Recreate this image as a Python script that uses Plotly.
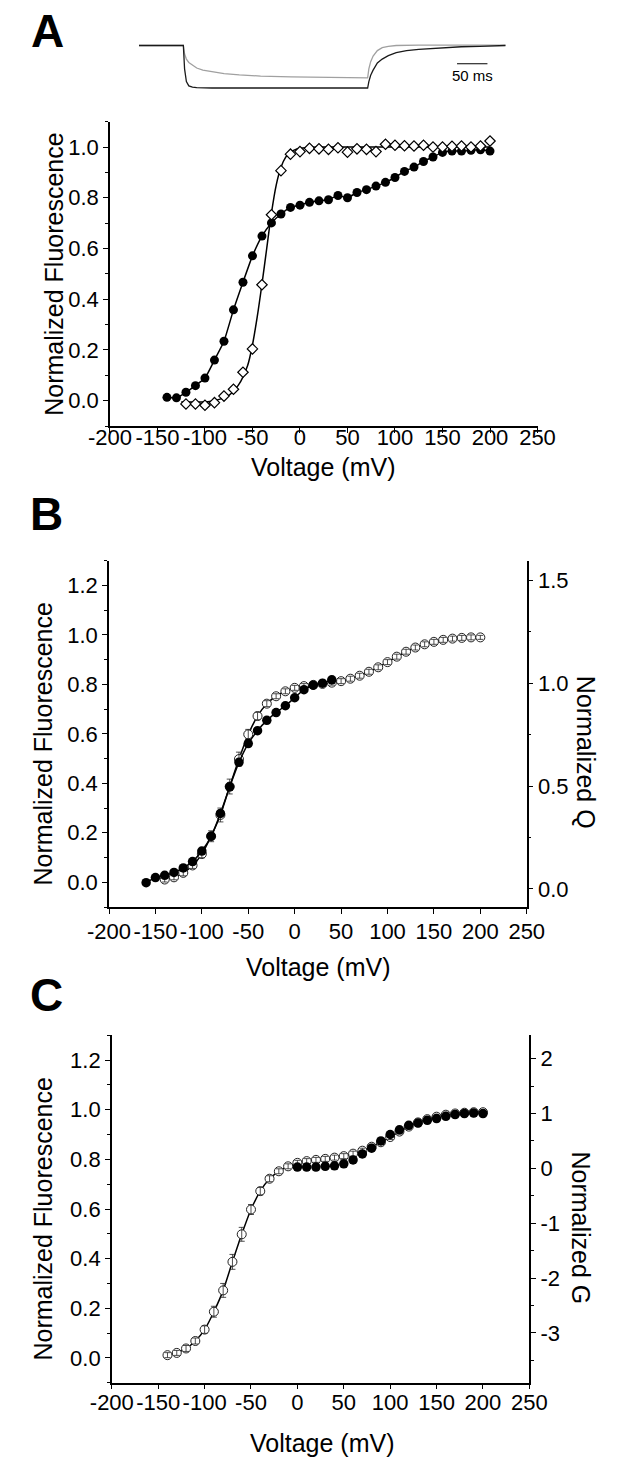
import plotly.graph_objects as go

W, H = 621, 1459
FONT = "Arial, Liberation Sans, sans-serif"

# ---------------- Panel A inset: fluorescence traces ----------------
trace_time_ms = [0, 73, 75, 78, 82, 88, 95, 105, 120, 140, 165, 200, 250, 300, 376,
                 378, 381, 385, 392, 400, 410, 423, 440, 460, 480, 500, 530, 560, 603]
trace_dark = [0, 0, -0.55, -0.85, -0.95, -0.98, -0.99, -1.0, -1.0, -1.0, -1.0, -1.0, -1.0, -1.0, -1.0,
              -0.85, -0.7, -0.58, -0.41, -0.32, -0.24, -0.17, -0.12, -0.09, -0.07, -0.05, -0.03, -0.02, 0]
trace_gray = [0, 0, -0.2, -0.32, -0.4, -0.47, -0.53, -0.58, -0.62, -0.66, -0.69, -0.72, -0.74, -0.75, -0.76,
              -0.55, -0.38, -0.25, -0.12, -0.05, -0.02, 0.0, 0.01, 0.01, 0.01, 0.01, 0.01, 0.01, 0.01]
scale_bar_ms = 50

# ---------------- Panel A: F-V curves ----------------
voltage_a_circles = [-140, -130, -120, -110, -100, -90, -80, -70, -60, -50, -40, -30, -20, -10, 0,
                     10, 20, 30, 40, 50, 60, 70, 80, 90, 100, 110, 120, 130, 140, 150, 160, 170, 180, 190, 200]
fluor_a_circles = [0.013, 0.011, 0.033, 0.059, 0.089, 0.16, 0.234, 0.358, 0.467, 0.571, 0.649, 0.701, 0.736,
                   0.762, 0.771, 0.782, 0.788, 0.792, 0.809, 0.80, 0.821, 0.832, 0.846, 0.861, 0.880, 0.904,
                   0.921, 0.943, 0.961, 0.979, 0.984, 0.984, 0.987, 0.989, 0.984]

voltage_a_diamonds = [-120, -110, -100, -90, -80, -70, -60, -50, -40, -30, -20, -10, 0,
                      10, 20, 30, 40, 50, 60, 70, 80, 90, 100, 110, 120, 130, 140, 150, 160, 170, 180, 190, 200]
fluor_a_diamonds = [-0.013, -0.013, -0.018, -0.008, 0.018, 0.045, 0.112, 0.204, 0.457, 0.733, 0.907, 0.972,
                    0.982, 0.995, 0.993, 0.991, 0.997, 0.980, 0.993, 0.991, 0.982, 1.011, 1.007, 1.005, 1.004,
                    1.007, 1.0, 1.0, 1.003, 1.004, 1.0, 1.004, 1.024]

# fitted curve through the diamonds
fit_a_voltage = [-125, -110, -95, -85, -75, -65, -55, -50, -45, -40, -35, -30, -25, -20, -15, -10, -5, 0,
                 20, 50, 100, 150, 200]
fit_a_fluor = [-0.005, -0.005, -0.003, 0.005, 0.02, 0.06, 0.14, 0.22, 0.33, 0.46, 0.6, 0.74, 0.85, 0.92,
               0.96, 0.98, 0.99, 0.995, 1.0, 1.0, 1.0, 1.0, 1.0]

# ---------------- Panels B & C: mean fluorescence (open circles) ----------------
voltage_f = [-140, -130, -120, -110, -100, -90, -80, -70, -60, -50, -40, -30, -20, -10, 0,
             10, 20, 30, 40, 50, 60, 70, 80, 90, 100, 110, 120, 130, 140, 150, 160, 170, 180, 190, 200]
fluor_mean = [0.011, 0.02, 0.038, 0.068, 0.114, 0.186, 0.272, 0.387, 0.498, 0.598, 0.672, 0.722, 0.752,
              0.772, 0.786, 0.793, 0.798, 0.802, 0.807, 0.813, 0.823, 0.835, 0.851, 0.869, 0.89, 0.912,
              0.932, 0.949, 0.962, 0.972, 0.98, 0.985, 0.988, 0.99, 0.99]
fluor_sem = [0.01, 0.01, 0.012, 0.012, 0.015, 0.022, 0.028, 0.03, 0.028, 0.02, 0.015, 0.012, 0.01, 0.01,
             0.01, 0.01, 0.01, 0.01, 0.01, 0.01, 0.01, 0.01, 0.01, 0.01, 0.01, 0.01, 0.01, 0.01, 0.01,
             0.01, 0.01, 0.01, 0.01, 0.01, 0.008]

# ---------------- Panel B: gating charge ----------------
voltage_q = [-160, -150, -140, -130, -120, -110, -100, -90, -80, -70, -60, -50, -40, -30, -20, -10,
             0, 10, 20, 30, 40]
charge_q = [0.03, 0.055, 0.066, 0.08, 0.102, 0.133, 0.184, 0.256, 0.367, 0.496, 0.615, 0.706, 0.769,
            0.819, 0.857, 0.89, 0.929, 0.968, 0.99, 1.0, 1.016]

# ---------------- Panel C: conductance ----------------
voltage_g = [0, 10, 20, 30, 40, 50, 60, 70, 80, 90, 100, 110, 120, 130, 140, 150, 160, 170, 180, 190, 200]
conductance_g = [0.024, 0.024, 0.024, 0.038, 0.047, 0.083, 0.155, 0.264, 0.368, 0.5, 0.618, 0.704, 0.786,
                 0.827, 0.877, 0.909, 0.95, 0.982, 1.0, 1.009, 1.0]

# ---------------- tick labels ----------------
x_ticks = [-200, -150, -100, -50, 0, 50, 100, 150, 200, 250]
x_tick_text = ["-200", "-150", "-100", "-50", "0", "50", "100", "150", "200", "250"]
fa_ticks = [0.0, 0.2, 0.4, 0.6, 0.8, 1.0]
fa_tick_text = ["0.0", "0.2", "0.4", "0.6", "0.8", "1.0"]
f_ticks = [0.0, 0.2, 0.4, 0.6, 0.8, 1.0, 1.2]
f_tick_text = ["0.0", "0.2", "0.4", "0.6", "0.8", "1.0", "1.2"]
q_ticks = [0.0, 0.5, 1.0, 1.5]
q_tick_text = ["0.0", "0.5", "1.0", "1.5"]
g_ticks = [-3, -2, -1, 0, 1, 2]
g_tick_text = ["-3", "-2", "-1", "0", "1", "2"]


def px_x(p):
    return p / W


def px_y(p):
    return 1 - p / H


fig = go.Figure()

# inset traces
fig.add_trace(go.Scatter(x=trace_time_ms, y=trace_gray, mode="lines", xaxis="x6", yaxis="y6",
                         line=dict(color="#a0a0a0", width=1.3), showlegend=False))
fig.add_trace(go.Scatter(x=trace_time_ms, y=trace_dark, mode="lines", xaxis="x6", yaxis="y6",
                         line=dict(color="#1a1a1a", width=1.3), showlegend=False))

# Panel A
fig.add_trace(go.Scatter(x=fit_a_voltage, y=fit_a_fluor, mode="lines", xaxis="x", yaxis="y",
                         line=dict(color="black", width=1.5, shape="spline", smoothing=0.8), showlegend=False))
fig.add_trace(go.Scatter(x=voltage_a_circles, y=fluor_a_circles, mode="lines+markers", xaxis="x", yaxis="y",
                         line=dict(color="black", width=1.5, shape="spline", smoothing=0.5),
                         marker=dict(symbol="circle", size=9, color="black"), showlegend=False))
fig.add_trace(go.Scatter(x=voltage_a_diamonds, y=fluor_a_diamonds, mode="markers", xaxis="x", yaxis="y",
                         marker=dict(symbol="diamond", size=8, color="white",
                                     line=dict(color="black", width=1.2)), showlegend=False))

# Panel B
fig.add_trace(go.Scatter(x=voltage_f, y=fluor_mean, mode="lines+markers", xaxis="x2", yaxis="y2",
                         line=dict(color="black", width=1.5, shape="spline", smoothing=0.6),
                         marker=dict(symbol="circle", size=9, color="white", line=dict(color="#222", width=1)),
                         showlegend=False))
fig.add_trace(go.Scatter(x=voltage_f, y=fluor_mean, mode="markers", xaxis="x2", yaxis="y2",
                         marker=dict(size=1, color="rgba(0,0,0,0)"),
                         error_y=dict(type="data", array=fluor_sem, visible=True, color="#222",
                                      thickness=0.8, width=3), showlegend=False))
fig.add_trace(go.Scatter(x=voltage_q, y=charge_q, mode="lines+markers", xaxis="x2", yaxis="y3",
                         line=dict(color="black", width=1.5, shape="spline", smoothing=0.8),
                         marker=dict(symbol="circle", size=9.5, color="black"), showlegend=False))

# Panel C
fig.add_trace(go.Scatter(x=voltage_f, y=fluor_mean, mode="lines+markers", xaxis="x4", yaxis="y4",
                         line=dict(color="black", width=1.5, shape="spline", smoothing=0.6),
                         marker=dict(symbol="circle", size=9, color="white", line=dict(color="#222", width=1)),
                         showlegend=False))
fig.add_trace(go.Scatter(x=voltage_f, y=fluor_mean, mode="markers", xaxis="x4", yaxis="y4",
                         marker=dict(size=1, color="rgba(0,0,0,0)"),
                         error_y=dict(type="data", array=fluor_sem, visible=True, color="#222",
                                      thickness=0.8, width=3), showlegend=False))
fig.add_trace(go.Scatter(x=voltage_g, y=conductance_g, mode="markers", xaxis="x4", yaxis="y5",
                         marker=dict(symbol="circle", size=9.5, color="black"), showlegend=False))

tickfont = dict(family=FONT, size=22, color="black")
axis_common = dict(showgrid=False, zeroline=False, showline=True, linecolor="black", linewidth=1.5,
                   ticks="outside", ticklen=5, tickwidth=1.3, tickcolor="black", tickfont=tickfont)


def xax(domain, anchor, standoff):
    return dict(axis_common, domain=domain, anchor=anchor, range=[-200, 250],
                tickmode="array", tickvals=x_ticks, ticktext=x_tick_text, ticklabelstandoff=standoff)


def yax(domain, anchor, rng, tv, tt, minor_vals):
    return dict(axis_common, domain=domain, anchor=anchor, range=rng,
                tickmode="array", tickvals=tv, ticktext=tt,
                minor=dict(tickmode="array", tickvals=minor_vals, ticks="outside", ticklen=3,
                           tickwidth=1.2, tickcolor="black"))


f_minor_a = [-0.1, 0.1, 0.3, 0.5, 0.7, 0.9, 1.1]
f_minor = [-0.1, 0.1, 0.3, 0.5, 0.7, 0.9, 1.1, 1.3]

dom_a_x = [px_x(94), px_x(551)]
dom_a_y = [px_y(426), px_y(121.7)]
dom_b_x = [px_x(93), px_x(539.5)]
dom_b_y = [px_y(907), px_y(560.7)]
dom_c_x = [px_x(96), px_x(542.3)]
dom_c_y = [px_y(1382.7), px_y(1035.3)]

fig.update_layout(
    width=W, height=H, autosize=False,
    margin=dict(l=0, r=0, t=0, b=0),
    paper_bgcolor="white", plot_bgcolor="white",
    font=dict(family=FONT, color="black"),
    showlegend=False,
    xaxis=xax(dom_a_x, "y", -14),
    yaxis=yax(dom_a_y, "x", [-0.1, 1.1], fa_ticks, fa_tick_text, f_minor_a),
    xaxis2=xax(dom_b_x, "y2", -1),
    yaxis2=yax(dom_b_y, "x2", [-0.1, 1.3], f_ticks, f_tick_text, f_minor),
    xaxis3=dict(axis_common, overlaying="x2", anchor="y2", side="top", range=[-200, 250],
                tickmode="array", tickvals=x_ticks, ticks="inside", ticklen=6, showticklabels=False),
    yaxis3=dict(yax(dom_b_y, "x2", [-0.088, 1.595], q_ticks, q_tick_text, [0.25, 0.75, 1.25]),
                overlaying="y2", side="right"),
    xaxis4=xax(dom_c_x, "y4", -6),
    yaxis4=yax(dom_c_y, "x4", [-0.1, 1.3], f_ticks, f_tick_text, f_minor),
    xaxis5=dict(axis_common, overlaying="x4", anchor="y4", side="top", range=[-200, 250],
                tickmode="array", tickvals=x_ticks, ticks="inside", ticklen=6, showticklabels=False),
    yaxis5=dict(yax(dom_c_y, "x4", [-3.906, 2.426], g_ticks, g_tick_text, [-3.5, -2.5, -1.5, -0.5, 0.5, 1.5]),
                overlaying="y4", side="right"),
    xaxis6=dict(domain=[px_x(125), px_x(517)], anchor="y6", range=[0, 603], visible=False),
    yaxis6=dict(domain=[px_y(92.25), px_y(39.1)], anchor="x6", range=[-1.1, 0.15], visible=False),
)

# scale bar
fig.add_shape(type="line", xref="x6", yref="y6", x0=523, x1=523 + scale_bar_ms, y0=-0.43, y1=-0.43,
              line=dict(color="black", width=1.2))

title_font = dict(family=FONT, size=25, color="black")
letter_font = dict(family=FONT, size=46, color="black")
annotations = [
    dict(text="<b>A</b>", x=px_x(27), y=px_y(31), font=letter_font),
    dict(text="<b>B</b>", x=px_x(26), y=px_y(514), font=letter_font),
    dict(text="<b>C</b>", x=px_x(26), y=px_y(995), font=letter_font),
    dict(text="50 ms", x=px_x(482), y=px_y(75), font=dict(family=FONT, size=15, color="black")),
    dict(text="Normalized Fluorescence", x=px_x(34), y=px_y(274), textangle=-90, font=title_font),
    dict(text="Voltage (mV)", x=px_x(322), y=px_y(467), font=title_font),
    dict(text="Normalized Fluorescence", x=px_x(22), y=px_y(744), textangle=-90, font=title_font),
    dict(text="Voltage (mV)", x=px_x(317), y=px_y(967), font=title_font),
    dict(text="Normalized Q", x=px_x(603), y=px_y(752), textangle=90, font=title_font),
    dict(text="Normalized Fluorescence", x=px_x(22), y=px_y(1219), textangle=-90, font=title_font),
    dict(text="Voltage (mV)", x=px_x(321), y=px_y(1443), font=title_font),
    dict(text="Normalized G", x=px_x(597), y=px_y(1228), textangle=90, font=title_font),
]
for a in annotations:
    a.update(xref="paper", yref="paper", showarrow=False, xanchor="center", yanchor="middle")
fig.update_layout(annotations=annotations)

fig.write_html("out.html", config={"displayModeBar": False},
               post_script="document.body.style.margin='0';document.body.style.overflow='hidden';")
